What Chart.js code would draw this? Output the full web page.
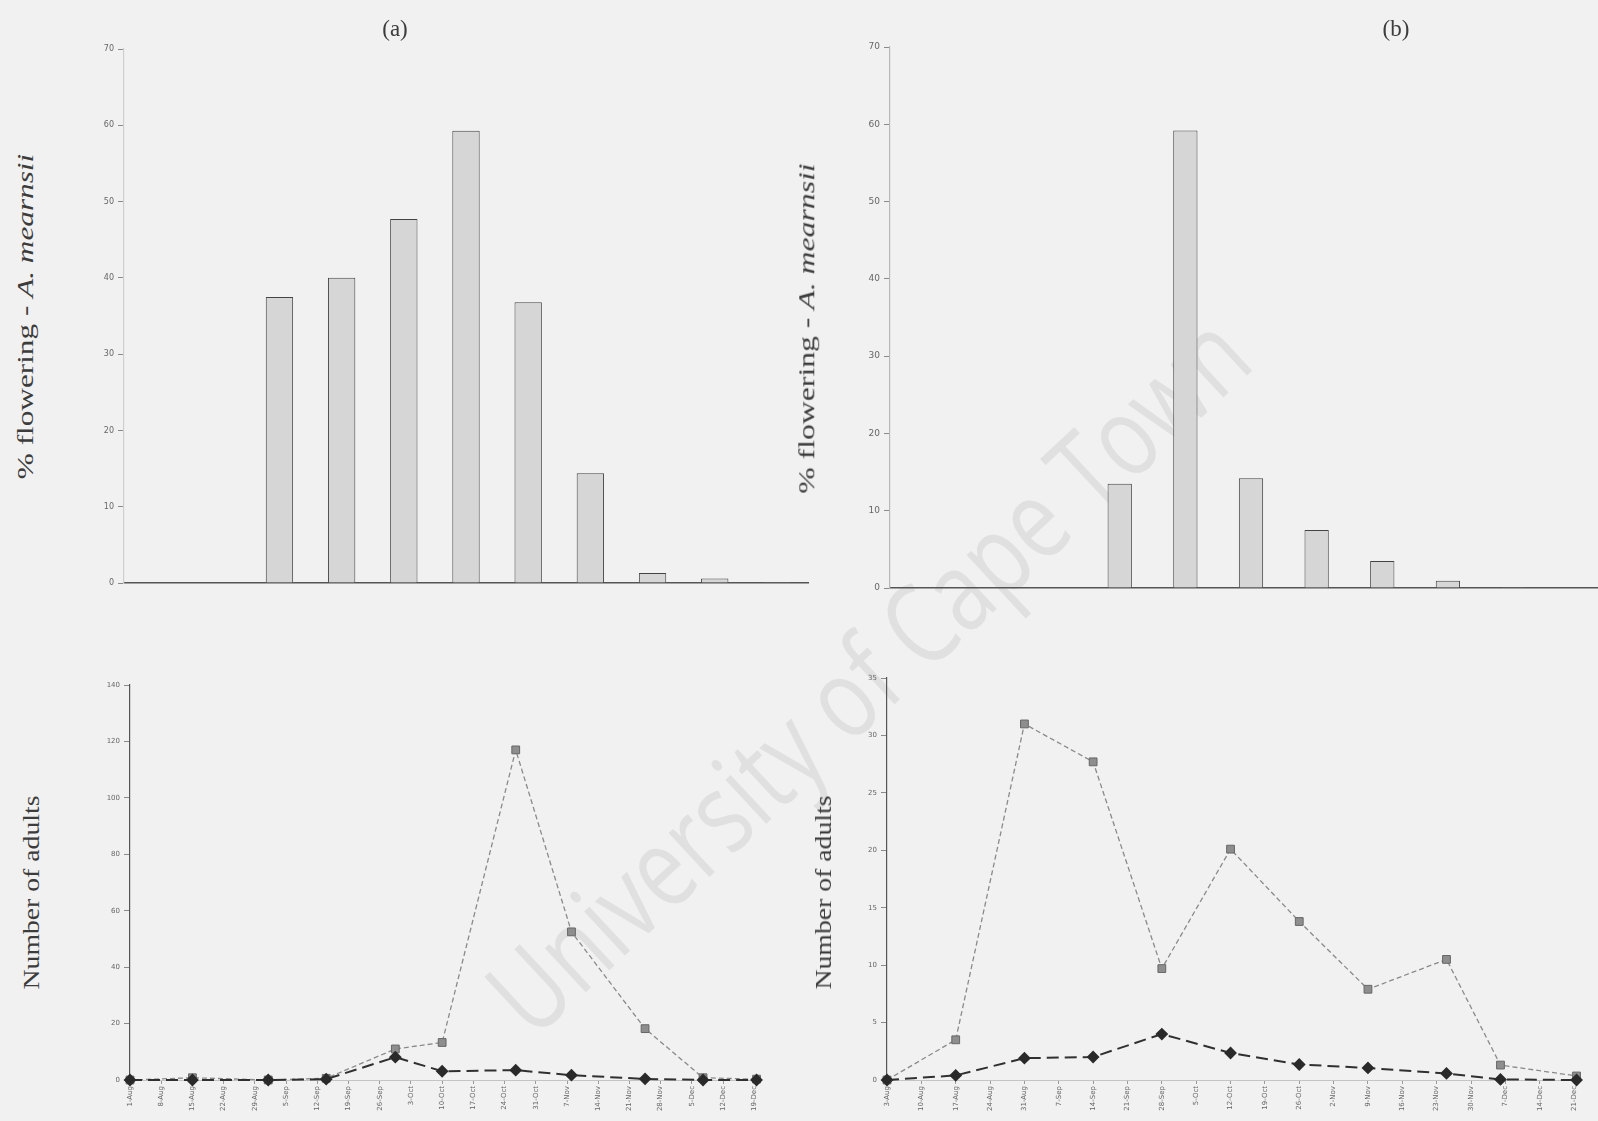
<!DOCTYPE html>
<html>
<head>
<meta charset="utf-8">
<script src="https://cdn.jsdelivr.net/npm/chart.js@4.4.0/dist/chart.umd.min.js"></script>
<style>
  html, body { margin: 0; padding: 0; background: #f1f1f1; }
  #stage { position: relative; width: 1598px; height: 1121px; overflow: hidden; background: #f1f1f1; }
  #stage canvas { position: absolute; }
  .txt { position: absolute; white-space: nowrap; font-family: "Liberation Serif", "DejaVu Serif", serif; color: #3c3c3c; line-height: 1; }
  .panel { font-size: 23px; transform: translate(-50%, -50%); }
  .ytitle { font-size: 23px; }
  #watermark { position: absolute; white-space: nowrap; font-family: "Open Sans", "Liberation Sans", sans-serif; font-size: 112px; color: #e0e0e0; line-height: 1; }
</style>
</head>
<body>
<div id="stage">
  <div id="watermark">University of Cape Town</div>
  <canvas id="tl"></canvas>
  <canvas id="tr"></canvas>
  <canvas id="bl"></canvas>
  <canvas id="br"></canvas>
  <div class="txt panel" style="left:395px; top:28px;">(a)</div>
  <div class="txt panel" style="left:1396px; top:28px;">(b)</div>
  <div class="txt ytitle" id="ytl"><span>% flowering - </span><i>A. mearnsii</i></div>
  <div class="txt ytitle" id="ytr"><span>% flowering - </span><i>A. mearnsii</i></div>
  <div class="txt ytitle" id="ybl">Number of adults</div>
  <div class="txt ytitle" id="ybr">Number of adults</div>
</div>
<script>
// ---- data: (a) site ----
const A_FLOWER_WEEKS = ['1-Aug','15-Aug','29-Aug','12-Sep','26-Sep','10-Oct','24-Oct','7-Nov','21-Nov','5-Dec','19-Dec'];
const A_FLOWERING = [0, 0, 37.5, 40, 47.7, 59.3, 36.8, 14.4, 1.3, 0.6, 0.1];

const A_DATE_LABELS = ['1-Aug','8-Aug','15-Aug','22-Aug','29-Aug','5-Sep','12-Sep','19-Sep','26-Sep','3-Oct','10-Oct',
  '17-Oct','24-Oct','31-Oct','7-Nov','14-Nov','21-Nov','28-Nov','5-Dec','12-Dec','19-Dec'];
const A_SAMPLE_DAY = [0, 14, 31, 44, 59.5, 70, 86.5, 99, 115.5, 128.5, 140.5];
const A_ADULTS_SQUARE = [0, 0.8, 0, 0.6, 11, 13.3, 117, 52.5, 18.2, 0.8, 0.3];
const A_ADULTS_DIAMOND = [0, 0, 0, 0.3, 8.1, 3.1, 3.5, 1.7, 0.4, 0, 0];

// ---- data: (b) site ----
const B_FLOWER_WEEKS = ['3-Aug','17-Aug','31-Aug','14-Sep','28-Sep','12-Oct','26-Oct','9-Nov','23-Nov','7-Dec','21-Dec'];
const B_FLOWERING = [0, 0, 0, 13.5, 59.2, 14.2, 7.5, 3.5, 0.95, 0.1, 0];

const B_DATE_LABELS = ['3-Aug','10-Aug','17-Aug','24-Aug','31-Aug','7-Sep','14-Sep','21-Sep','28-Sep','5-Oct','12-Oct',
  '19-Oct','26-Oct','2-Nov','9-Nov','16-Nov','23-Nov','30-Nov','7-Dec','14-Dec','21-Dec'];
const B_SAMPLE_DAY = [0, 14, 28, 42, 56, 70, 84, 98, 114, 125, 140.5];
const B_ADULTS_SQUARE = [0, 3.5, 31, 27.7, 9.7, 20.1, 13.8, 7.9, 10.5, 1.3, 0.35];
const B_ADULTS_DIAMOND = [0, 0.4, 1.9, 2.0, 4.0, 2.35, 1.35, 1.05, 0.57, 0.05, 0];

// ---- layout helpers ----
function placeCanvas(id, box) {
  const c = document.getElementById(id);
  c.width = box.w; c.height = box.h;
  c.style.left = box.x + 'px'; c.style.top = box.y + 'px';
  c.style.width = box.w + 'px'; c.style.height = box.h + 'px';
  return c;
}

function yAxis(min, max, step, width, fontSize, axisColor) {
  return {
    min, max,
    ticks: { stepSize: step, color: '#666', font: { family: 'DejaVu Sans', size: fontSize }, padding: 4 },
    grid: { drawOnChartArea: false, drawTicks: true, tickLength: 6, color: '#8a8a8a' },
    border: { color: axisColor, width: 1.2 },
    afterFit: s => { s.width = width; }
  };
}

function barChart(id, box, cats, vals, barPct, yW, tickFont, yAxisColor) {
  const c = placeCanvas(id, box);
  return new Chart(c, {
    type: 'bar',
    data: {
      labels: cats,
      datasets: [{
        data: vals,
        backgroundColor: '#d6d6d6',
        borderColor: '#444',
        borderWidth: 1,
        categoryPercentage: 1,
        barPercentage: barPct
      }]
    },
    options: {
      responsive: false, animation: false, devicePixelRatio: 1,
      layout: { padding: { top: 20, right: 8, bottom: 10, left: 0 } },
      plugins: { legend: { display: false }, tooltip: { enabled: false } },
      scales: {
        x: {
          ticks: { display: false },
          grid: { display: false },
          border: { color: '#555', width: 1.5 },
          afterFit: s => { s.height = 0; }
        },
        y: yAxis(0, 70, 10, yW, tickFont, yAxisColor)
      }
    }
  });
}

function lineChart(id, box, days, squares, diamonds, dateLabels, xMax, yMax, yStep, yW) {
  const c = placeCanvas(id, box);
  const pts = v => days.map((d, i) => ({ x: d, y: v[i] }));
  return new Chart(c, {
    type: 'line',
    data: {
      datasets: [
        {
          data: pts(diamonds),
          borderColor: '#303030', borderWidth: 2, borderDash: [12, 6],
          pointStyle: 'rectRot', pointRadius: 5, pointBackgroundColor: '#2a2a2a', pointBorderColor: '#2a2a2a',
          tension: 0, clip: false
        },
        {
          data: pts(squares),
          borderColor: '#8a8a8a', borderWidth: 1.3, borderDash: [5, 3],
          pointStyle: 'rect', pointRadius: 5.5, pointBackgroundColor: '#8e8e8e', pointBorderColor: '#666',
          pointBorderWidth: 1, tension: 0, clip: false
        }
      ]
    },
    options: {
      responsive: false, animation: false, devicePixelRatio: 1,
      layout: { padding: { top: 20, right: 8, bottom: 0, left: 0 } },
      plugins: { legend: { display: false }, tooltip: { enabled: false } },
      scales: {
        x: {
          type: 'linear', min: 0, max: xMax,
          // one tick per weekly date label
          afterBuildTicks: s => { s.ticks = dateLabels.map((_, i) => ({ value: i * 7 })); },
          ticks: {
            autoSkip: false, minRotation: 90, maxRotation: 90,
            color: '#666', font: { family: 'DejaVu Sans', size: 7 }, padding: 2,
            callback: v => dateLabels[Math.round(v / 7)] || ''
          },
          grid: { drawOnChartArea: false, drawTicks: true, tickLength: 4, color: '#9a9a9a' },
          border: { color: '#c4c4c4', width: 1 },
          afterFit: s => { s.height = 41; }
        },
        y: yAxis(0, yMax, yStep, yW, 7, '#555')
      }
    }
  });
}

// ---- panels ----
barChart('tl', { x: 64, y: 29, w: 752, h: 564 }, A_FLOWER_WEEKS, A_FLOWERING, 0.44, 60, 8, '#cfcfcf');
barChart('tr', { x: 830, y: 27, w: 790, h: 571 }, B_FLOWER_WEEKS, B_FLOWERING, 0.37, 60, 9, '#b8b8b8');
lineChart('bl', { x: 70, y: 665, w: 699, h: 456 }, A_SAMPLE_DAY, A_ADULTS_SQUARE, A_ADULTS_DIAMOND, A_DATE_LABELS, 141.5, 140, 20, 60);
lineChart('br', { x: 827, y: 658, w: 760, h: 463 }, B_SAMPLE_DAY, B_ADULTS_SQUARE, B_ADULTS_DIAMOND, B_DATE_LABELS, 141, 35, 5, 60);

// ---- rotated axis titles, stretched to their drawn length ----
function rotated(id, cx, cy, angle, length) {
  const el = document.getElementById(id);
  const sx = length / el.offsetWidth;
  el.style.left = (cx - el.offsetWidth / 2) + 'px';
  el.style.top = (cy - el.offsetHeight / 2) + 'px';
  el.style.transformOrigin = '50% 50%';
  el.style.transform = 'rotate(' + angle + 'deg) scale(' + sx + ',1)';
}
rotated('ytl', 26, 316, -90, 326);
rotated('ytr', 807, 328, -90, 331);
rotated('ybl', 31, 892, -90, 194);
rotated('ybr', 823, 892, -90, 194);
rotated('watermark', 866, 672, -43, 990);
</script>
</body>
</html>
